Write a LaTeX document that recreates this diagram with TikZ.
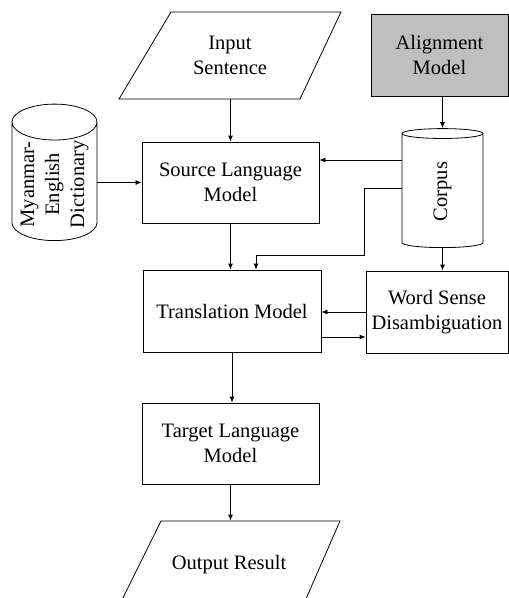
\documentclass[tikz,border=0pt]{standalone}
\usepackage{fontspec}
\setmainfont{Liberation Serif}
\usetikzlibrary{shapes.geometric,arrows.meta,positioning}

\begin{document}
\begin{tikzpicture}
  [x=1pt,y=-1pt,line width=0.8pt,
   every node/.style={font=\fontsize{20.5}{25}\selectfont,align=center,inner sep=2pt},
   block/.style={draw,rectangle,minimum width=177pt,minimum height=81pt},
   io/.style={rectangle,minimum width=222pt,minimum height=87pt},
   store/.style={draw,cylinder,rotate=90,anchor=west,inner xsep=0pt},
   arr/.style={-{Latex[length=6pt,width=5pt]}}]
  \useasboundingbox (0,0) rectangle (509,598);
  \clip (0,0) rectangle (509,598);

  \node[io] (input) at (230,55.5) {Input\\Sentence};
  \node[block,fill=black!25,minimum width=137pt,minimum height=82pt] (align) at (439.5,55) {Alignment\\Model};
  \node[store,aspect=0.5,minimum width=85pt,minimum height=130pt] (dict) at (54.5,241) {Myanmar-\\English\\Dictionary};
  \node[block] (src) at (230.5,182.5) {Source Language\\Model};
  \node[store,aspect=0.45,minimum width=81pt,minimum height=119pt] (corpus) at (442.5,248) {Corpus};
  \node[block,minimum width=178pt,minimum height=82pt] (trans) at (232,311) {Translation Model};
  \node[block,minimum width=142pt,minimum height=82pt] (wsd) at (437,312) {Word Sense\\Disambiguation};
  \node[block] (tgt) at (230.5,443.5) {Target Language\\Model};
  \node[io] (out) at (229,564.5) {Output Result};

  % parallelograms round the in/out nodes
  \draw ([shift={(-111,43.5)}]input.center) -- ([shift={(70,43.5)}]input.center)
    -- ([shift={(111,-43.5)}]input.center) -- ([shift={(-59,-43.5)}]input.center) -- cycle;
  \draw ([shift={(-111,43.5)}]out.center) -- ([shift={(73,43.5)}]out.center)
    -- ([shift={(111,-43.5)}]out.center) -- ([shift={(-68,-43.5)}]out.center) -- cycle;

  % connectors
  \draw[arr] (input.south -| src.north) -- (src.north);
  \draw[arr] (dict.south |- src.west) -- (src.west);
  \draw[arr] (corpus.north |- 0,160) -- (src.east |- 0,160);
  \draw[arr] (align.south -| corpus.east) -- (corpus.east);
  \draw[arr] (corpus.north |- 0,188) -| (364,255) -| ([xshift=24pt]trans.north);
  \draw[arr] (src.south) -- (src.south |- trans.north);
  \draw[arr] (corpus.west) -- (corpus.west |- wsd.north);
  \draw[arr] (wsd.west) -- (wsd.west -| trans.east);
  \draw[arr] ([yshift=-26pt]trans.east) -- ([yshift=-26pt]trans.east -| wsd.west);
  \draw[arr] (trans.south) -- (trans.south |- tgt.north);
  \draw[arr] (tgt.south) -- (tgt.south |- out.north);
\end{tikzpicture}
\end{document}
